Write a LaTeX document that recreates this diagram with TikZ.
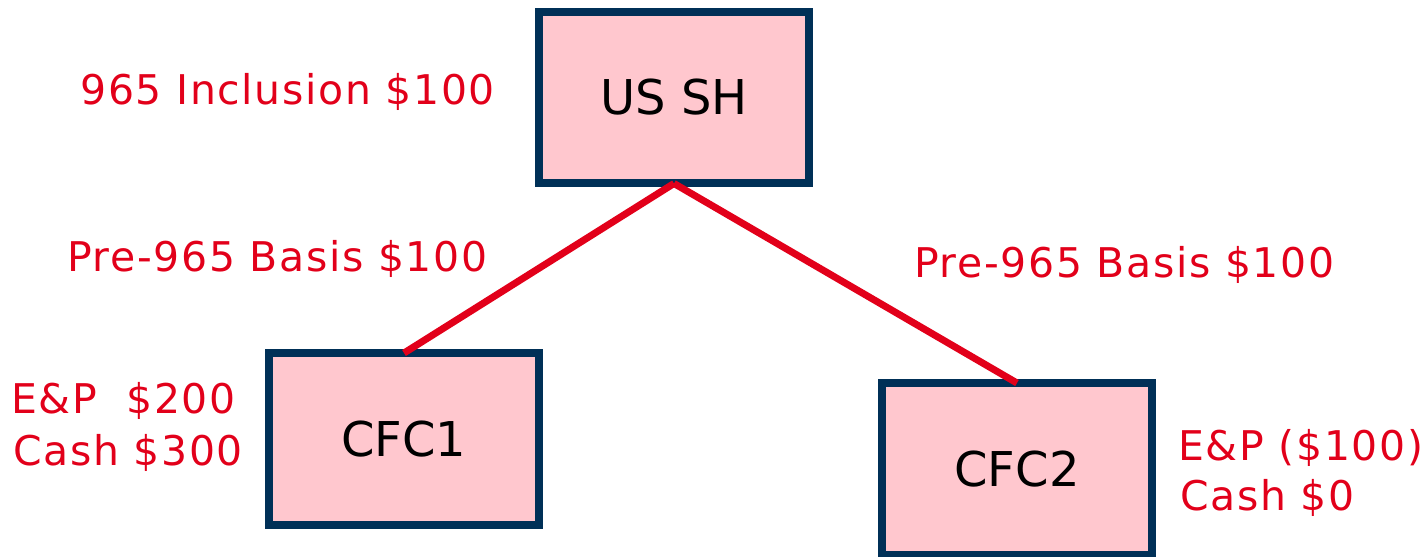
\documentclass[tikz,border=0pt]{standalone}
\usepackage{fontspec}
\setmainfont{DejaVu Sans}
\newfontfamily\notefont{DejaVu Sans}[LetterSpace=4]
\usepackage{xcolor}
\usepackage{tikz}
\definecolor{shNavy}{HTML}{003057}
\definecolor{shPink}{HTML}{FFC7CE}
\definecolor{shRed}{HTML}{E2001A}

\begin{document}
\begin{tikzpicture}[x=0.02cm, y=-0.02cm,
  entity/.style={draw=shNavy, fill=shPink, line width=0.16cm, minimum width=5.4cm, minimum height=3.44cm,
    inner sep=0pt, outer sep=0pt, font=\fontsize{27.3}{32}\selectfont},
  note/.style={text=shRed, anchor=base west, inner sep=0pt, font=\notefont\fontsize{23.3}{28}\selectfont},
  link/.style={draw=shRed, line width=0.14cm}]
\useasboundingbox (0,0) rectangle (1427,557);
\node[entity] (ussh) at (674,97.5) {US SH};
\node[entity] (cfcA) at (404,439) {CFC1};
\node[entity] (cfcB) at (1017,469) {CFC2};
\draw[link] (ussh.south) -- (cfcA.north);
\draw[link] (ussh.south) -- (cfcB.north);
\node[note] (incl) at (80,105) {965 Inclusion \$100};
\node[note] (basisA) at (67,272) {Pre-965 Basis \$100};
\node[note] (basisB) at (914,277) {Pre-965 Basis \$100};
\node[note] (epA) at (11,413) {E\&P\ \ \$200};
\node[note] (cashA) at (13,465) {Cash \$300};
\node[note] (epB) at (1178,460) {E\&P (\$100)};
\node[note] (cashB) at (1180,510) {Cash \$0};
\end{tikzpicture}
\end{document}
